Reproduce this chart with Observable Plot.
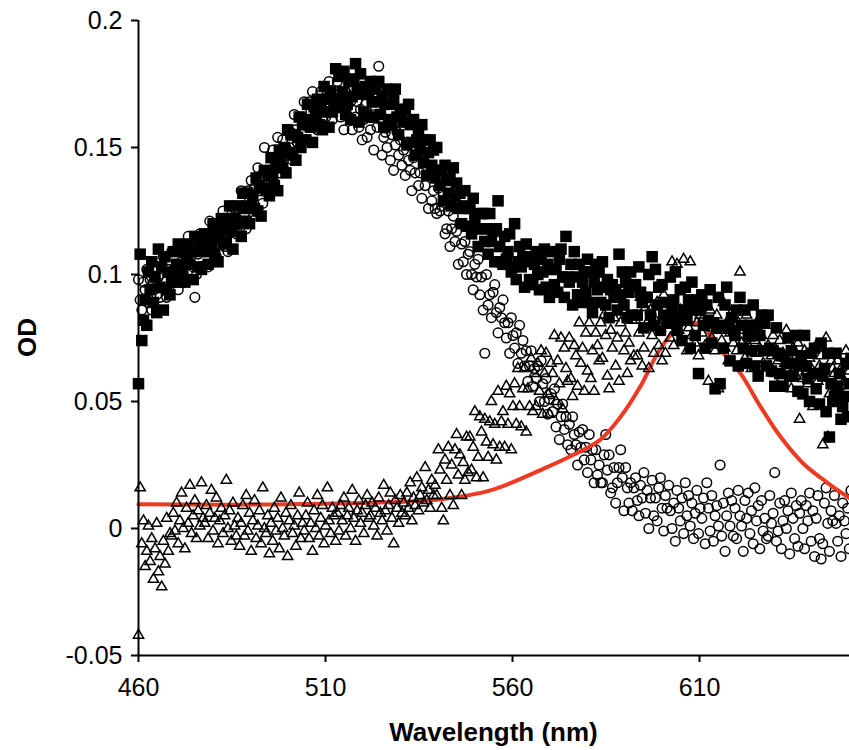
<!DOCTYPE html>
<html>
<head>
<meta charset="utf-8">
<script src="https://cdn.jsdelivr.net/npm/d3@7"></script>
<script src="https://cdn.jsdelivr.net/npm/@observablehq/plot@0.6"></script>
<style>
  html, body { margin: 0; padding: 0; background: #fff; overflow: hidden; }
  #chart svg { display: block; max-width: none; }
</style>
</head>
<body>
<div id="chart"></div>
<script>
// ---- axis / text ----
const xTicks = [460, 510, 560, 610];
const yTicks = [-0.05, 0, 0.05, 0.1, 0.15, 0.2];
const xTitle = "Wavelength (nm)";
const yTitle = "OD";

// ---- spectral sampling (instrument grid, nm) ----
const sampleStart = 460;
const sampleStep = 0.443;

// ---- series values, in milli-OD ----
const squaresMilliOD = [
  57, 108, 74, 82, 90, 80, 101, 94, 105, 89, 99, 85, 110, 95, 103, 86, 107, 94, 101, 92,
  97, 109, 101, 104, 112, 97, 101, 109, 97, 105, 112, 104, 109, 98, 115, 109, 103, 113, 102, 112,
  116, 109, 104, 116, 112, 120, 108, 117, 105, 115, 122, 112, 118, 113, 122, 127, 117, 110, 122, 120,
  120, 127, 115, 132, 126, 121, 132, 120, 127, 131, 126, 138, 125, 135, 123, 134, 141, 133, 140, 131,
  146, 139, 135, 143, 133, 149, 145, 142, 150, 140, 157, 148, 155, 147, 155, 145, 154, 162, 150, 159,
  161, 153, 167, 160, 158, 152, 166, 162, 169, 159, 165, 157, 174, 164, 169, 158, 172, 164, 168, 181,
  166, 178, 169, 172, 180, 163, 167, 176, 161, 170, 177, 183, 173, 160, 179, 171, 164, 174, 162, 172,
  176, 168, 162, 173, 168, 176, 163, 170, 158, 167, 173, 161, 167, 159, 169, 173, 162, 155, 165, 162,
  160, 165, 151, 167, 159, 152, 161, 147, 153, 156, 149, 159, 144, 153, 139, 148, 153, 143, 149, 138,
  150, 141, 135, 141, 129, 143, 137, 132, 138, 127, 142, 131, 136, 126, 132, 120, 127, 133, 119, 126,
  126, 116, 130, 122, 118, 111, 124, 118, 124, 113, 118, 108, 124, 113, 117, 105, 118, 129, 111, 105,
  104, 115, 106, 109, 116, 101, 103, 120, 98, 105, 111, 103, 107, 95, 112, 105, 98, 107, 96, 104,
  109, 100, 94, 106, 101, 110, 95, 104, 91, 102, 109, 96, 102, 93, 106, 110, 99, 91, 115, 99,
  97, 104, 88, 109, 99, 92, 104, 89, 97, 101, 93, 106, 89, 101, 85, 97, 104, 94, 101, 89,
  105, 95, 88, 98, 83, 94, 96, 91, 94, 86, 108, 92, 101, 88, 97, 83, 93, 101, 84, 95,
  96, 84, 103, 93, 89, 79, 91, 91, 100, 84, 107, 80, 102, 88, 95, 78, 96, 84, 89, 81,
  82, 99, 86, 90, 101, 78, 82, 94, 74, 86, 95, 82, 90, 71, 97, 86, 76, 90, 61, 86,
  92, 80, 71, 88, 82, 94, 73, 81, 55, 79, 91, 57, 80, 71, 88, 95, 79, 66, 83, 78,
  76, 86, 64, 91, 80, 71, 86, 65, 76, 80, 70, 88, 64, 80, 60, 76, 84, 70, 81, 64,
  84, 71, 62, 70, 56, 79, 69, 61, 68, 56, 68, 65, 75, 60, 70, 60, 65, 76, 54, 64,
  68, 53, 76, 64, 59, 50, 69, 61, 71, 55, 61, 49, 73, 60, 63, 46, 69, 36, 57, 50,
  52, 69, 56, 61, 43, 48, 52, 65, 44, 57, 67
];

const circlesMilliOD = [
  98, 90, 86, 97, 94, 102, 89, 98, 86, 97, 103, 92, 99, 91, 103, 107, 97, 91, 102, 100,
  109, 102, 97, 104, 94, 109, 105, 101, 109, 98, 115, 105, 111, 103, 91, 100, 108, 116, 103, 112,
  109, 116, 103, 121, 114, 109, 120, 107, 115, 118, 113, 125, 111, 122, 109, 120, 127, 118, 126, 116,
  126, 118, 133, 127, 124, 118, 133, 129, 137, 127, 134, 125, 142, 133, 139, 128, 150, 135, 139, 134,
  137, 149, 142, 146, 154, 140, 144, 153, 141, 150, 157, 150, 156, 145, 163, 157, 152, 162, 152, 162,
  168, 161, 158, 168, 164, 172, 160, 168, 157, 167, 172, 162, 169, 162, 172, 176, 167, 161, 171, 169,
  176, 168, 162, 169, 157, 172, 166, 162, 168, 157, 173, 162, 168, 158, 165, 153, 161, 167, 154, 162,
  157, 163, 149, 165, 158, 182, 161, 147, 154, 156, 150, 160, 145, 155, 141, 151, 156, 147, 153, 143,
  149, 139, 152, 145, 141, 133, 146, 140, 147, 135, 140, 130, 145, 135, 139, 126, 139, 129, 133, 126,
  124, 134, 125, 127, 132, 116, 118, 125, 111, 118, 123, 113, 117, 104, 120, 112, 105, 113, 100, 108,
  109, 100, 94, 104, 99, 106, 92, 99, 86, 69, 100, 88, 92, 83, 93, 96, 85, 77, 87, 83,
  90, 81, 75, 81, 69, 83, 76, 71, 77, 65, 80, 69, 74, 64, 70, 58, 64, 70, 56, 63,
  59, 64, 50, 66, 57, 50, 59, 45, 51, 53, 46, 55, 40, 49, 35, 44, 49, 39, 44, 33,
  41, 31, 44, 37, 33, 25, 38, 32, 39, 27, 32, 22, 37, 27, 31, 18, 31, 21, 25, 18,
  18, 29, 37, 23, 29, 14, 16, 24, 10, 18, 24, 31, 20, 7, 24, 16, 10, 18, 7, 16,
  20, 11, 5, 17, 12, 22, 6, 15, 0, 12, 19, 5, 12, 3, 16, 20, 8, -1, 13, 8,
  17, 7, 0, 10, -5, 15, 8, 3, 12, -2, 18, 5, 13, 1, 10, -4, 6, 15, -2, 8,
  4, 12, -6, 18, 8, -1, 13, -5, 5, 9, 1, 25, -3, 10, -9, 5, 14, 1, 11, -3,
  8, -4, 15, 5, 1, -9, 11, 4, 14, -2, 7, -6, 16, 3, 9, -8, 11, -1, 4, -4,
  -3, 13, 2, 6, 22, -5, -1, 10, -8, 3, 11, 0, 7, -10, 14, 4, -4, 9, -7, 6,
  11, 0, -8, 9, 3, 14, -5, 7, -11, 4, 13, -4, -12, -6, 10, 16, 2, -9, 7, 3,
  13, 2, -5, 5, -11, 10, 3, -2, 8, -8, 15
];

const trianglesMilliOD = [
  -42, 16, -6, 3, -15, -9, 1, -13, -4, -20, -8, 2, -17, -11, -23, -5, -14, 4, -9, -2,
  -3, 6, -1, 10, -6, 3, 14, 0, -8, 8, 2, 17, -2, 5, 11, -4, 7, 1, 18, 4,
  2, 9, -4, 6, 15, -1, 4, 12, -6, 3, 8, -2, 5, 19, 0, 7, -5, 10, 1, -3,
  4, -7, 2, 9, -3, 13, -1, 6, -9, 3, 11, -4, 1, 7, -6, 16, 0, -2, 5, -10,
  2, -5, 8, -1, 4, -8, 12, 0, -3, 6, -11, 3, 9, -2, 1, -7, 5, 14, -4, 2,
  -1, 5, 10, -4, 2, -9, 7, 0, 13, -3, 4, 9, -6, 1, 16, 3, -2, 8, 5, -5,
  6, -1, 9, 3, 12, -3, 5, 8, 0, 15, 4, -5, 7, 11, 2, 6, -2, 9, 13, 4,
  5, 10, 1, 8, -3, 12, 6, 3, 17, 7, -1, 9, 14, 4, -6, 11, 8, 2, 13, 6,
  10, 5, 14, 8, 18, 3, 12, 9, 20, 7, 13, 16, 10, 24, 11, 15, 8, 19, 13, 17,
  13, 31, 23, 8, 3, 27, 19, 32, 13, 25, 9, 31, 37, 21, 29, 13, 26, 19, 36, 22,
  36, 23, 32, 46, 20, 28, 44, 38, 20, 43, 34, 28, 42, 50, 33, 41, 27, 54, 32, 42,
  46, 32, 56, 41, 53, 31, 48, 57, 41, 63, 48, 40, 55, 63, 38, 55, 48, 67, 46, 61,
  48, 65, 54, 70, 45, 61, 69, 53, 45, 65, 61, 76, 50, 66, 57, 75, 47, 71, 63, 58,
  75, 59, 52, 72, 68, 56, 81, 65, 71, 54, 77, 62, 81, 59, 70, 54, 77, 72, 66, 81,
  67, 84, 76, 60, 55, 78, 71, 83, 64, 75, 58, 81, 86, 70, 77, 61, 73, 66, 82, 68,
  82, 68, 77, 91, 64, 71, 87, 81, 63, 86, 76, 69, 82, 89, 72, 79, 66, 92, 69, 80,
  81, 75, 105, 72, 84, 104, 78, 86, 74, 106, 82, 70, 79, 105, 76, 88, 73, 81, 68, 84,
  77, 83, 72, 80, 58, 86, 75, 79, 70, 84, 55, 78, 74, 89, 71, 81, 66, 77, 85, 73,
  76, 70, 81, 101, 73, 78, 67, 84, 72, 75, 63, 79, 74, 69, 82, 71, 76, 65, 80, 70,
  72, 64, 68, 76, 61, 70, 66, 74, 59, 69, 65, 78, 62, 67, 55, 71, 64, 60, 73, 43,
  65, 59, 70, 62, 57, 67, 63, 48, 61, 72, 58, 64, 68, 33, 62, 75, 36, 53, 66, 63,
  61, 56, 66, 59, 52, 64, 58, 70, 55, 62, 57
];

// ---- red fitted curve ----
const fitWavelength = [460, 500, 530, 540.7, 554.1, 567.5, 576.3, 583.5, 588.9, 594.2, 598.8, 602.8, 605.3, 608.1, 610.3, 613, 616.4, 621, 626.3, 631.7, 637.8, 644.2, 650.1];
const fitMilliOD   = [9.5, 9.5, 10.5, 11.5, 15, 23, 29, 35, 44, 56, 69, 77, 80, 81, 80, 76, 69, 61, 48, 36, 25.5, 18, 12];

// ---- build tables ----
const toRows = arr => arr.map((v, i) => ({wl: sampleStart + i * sampleStep, od: v / 1000}));
const squares = toRows(squaresMilliOD);
const circles = toRows(circlesMilliOD);
const triangles = toRows(trianglesMilliOD);
const fit = fitWavelength.map((w, i) => ({wl: w, od: fitMilliOD[i] / 1000}));

const W = 849, H = 750;
const mL = 138, mR = 0, mT = 20, mB = 95;
const xMax = 650.1;

const chart = Plot.plot({
  width: W, height: H,
  marginLeft: mL, marginRight: mR, marginTop: mT, marginBottom: mB,
  style: {fontFamily: "'Liberation Sans', Arial, Helvetica, sans-serif", background: "white", color: "black", overflow: "hidden"},
  x: {domain: [460, xMax]},
  y: {domain: [-0.05, 0.2]},
  marks: [
    Plot.dot(circles, {x: "wl", y: "od", symbol: "circle", r: 4.8, fill: "none", stroke: "black", strokeWidth: 1.5}),
    Plot.line(fit, {x: "wl", y: "od", stroke: "#ee3a22", strokeWidth: 4, curve: "catmull-rom"}),
    Plot.dot(triangles, {x: "wl", y: "od", symbol: "triangle", r: 3.8, fill: "none", stroke: "black", strokeWidth: 1.5}),
    Plot.dot(squares, {x: "wl", y: "od", symbol: "square", r: 6.5, fill: "black", stroke: "none"}),
    Plot.ruleX([460], {y1: -0.05, y2: 0.2, stroke: "black", strokeWidth: 2}),
    Plot.ruleY([-0.05], {x1: 460, x2: xMax, stroke: "black", strokeWidth: 2}),
    Plot.axisX({ticks: xTicks, tickSize: 7, tickPadding: 16, fontSize: 25, strokeWidth: 2, label: null, tickFormat: d => String(d)}),
    Plot.axisY({ticks: yTicks, tickSize: 7, tickPadding: 9, fontSize: 25, strokeWidth: 2, label: null, tickFormat: d => String(d)})
  ]
});

const svg = d3.select(chart.tagName.toLowerCase() === "svg" ? chart : chart.querySelector("svg"));
svg.append("text")
  .attr("x", (mL + W - mR) / 2)
  .attr("y", 741)
  .attr("text-anchor", "middle")
  .attr("font-weight", "bold")
  .attr("font-size", 26)
  .attr("fill", "black")
  .text(xTitle);
svg.append("text")
  .attr("transform", `translate(36, ${(mT + H - mB) / 2}) rotate(-90)`)
  .attr("text-anchor", "middle")
  .attr("font-weight", "bold")
  .attr("font-size", 26)
  .attr("fill", "black")
  .text(yTitle);

document.getElementById("chart").appendChild(chart);
</script>
</body>
</html>
